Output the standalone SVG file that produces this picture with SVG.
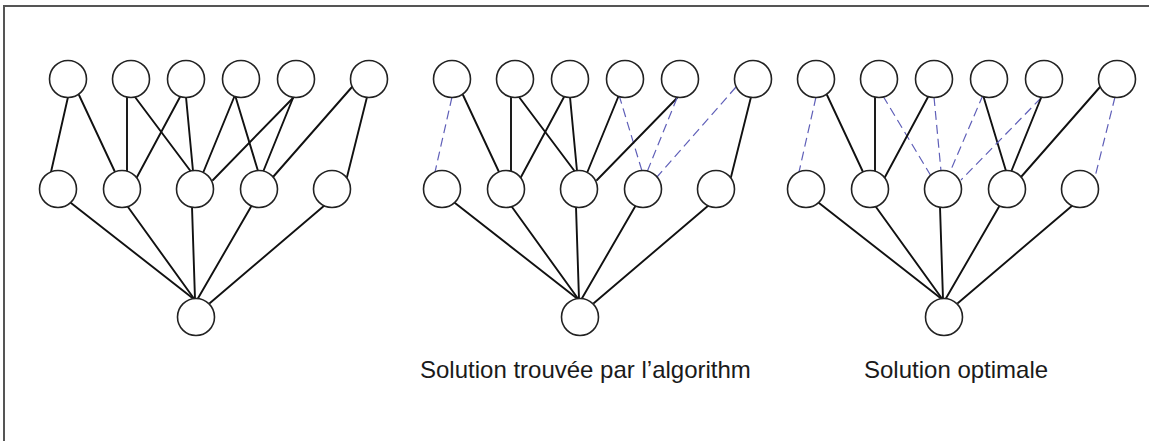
<svg xmlns="http://www.w3.org/2000/svg" width="1149" height="441" viewBox="0 0 1149 441">
<style>
.e{stroke:#111;stroke-width:1.9;fill:none;stroke-linecap:round}
.d{stroke:#5f5fb8;stroke-width:1.2;fill:none;stroke-dasharray:9 5}
.n{fill:#fff;stroke:#222;stroke-width:1.6}
.t{font-family:"Liberation Sans",Arial,sans-serif;font-size:24px;fill:#1a1a1a}
.f{stroke:#555;stroke-width:2;fill:none}
</style>
<rect width="1149" height="441" fill="#fff"/>
<g id="frame">
<line class="f" x1="3" y1="6" x2="1149" y2="6"/>
<line class="f" x1="4" y1="5" x2="4" y2="441"/>
</g>
<g id="connectors">
<g id="tree1-edges">
<line class="e" x1="68" y1="97" x2="51" y2="172"/>
<line class="e" x1="79" y1="95" x2="115" y2="172"/>
<line class="e" x1="127" y1="97" x2="127" y2="171"/>
<line class="e" x1="135" y1="97" x2="192" y2="173"/>
<line class="e" x1="180" y1="97" x2="137" y2="177"/>
<line class="e" x1="186" y1="97" x2="193" y2="171"/>
<line class="e" x1="235" y1="95" x2="203" y2="173"/>
<line class="e" x1="235" y1="95" x2="258" y2="171"/>
<line class="e" x1="293" y1="98" x2="213" y2="180"/>
<line class="e" x1="293" y1="98" x2="263" y2="172"/>
<line class="e" x1="352" y1="87" x2="273" y2="177"/>
<line class="e" x1="367" y1="97" x2="347" y2="177"/>
<line class="e" x1="71" y1="203" x2="195" y2="300"/>
<line class="e" x1="128" y1="207" x2="195" y2="300"/>
<line class="e" x1="192" y1="207" x2="195" y2="299"/>
<line class="e" x1="252" y1="205" x2="197" y2="300"/>
<line class="e" x1="325" y1="205" x2="210" y2="303"/>
</g>
<g id="tree2-edges">
<line class="d" x1="452" y1="97" x2="435" y2="172"/>
<line class="e" x1="463" y1="95" x2="499" y2="172"/>
<line class="e" x1="511" y1="97" x2="511" y2="171"/>
<line class="e" x1="519" y1="97" x2="576" y2="173"/>
<line class="e" x1="564" y1="97" x2="521" y2="177"/>
<line class="e" x1="570" y1="97" x2="577" y2="171"/>
<line class="e" x1="619" y1="95" x2="587" y2="173"/>
<line class="d" x1="619" y1="95" x2="642" y2="171"/>
<line class="e" x1="677" y1="98" x2="597" y2="180"/>
<line class="d" x1="677" y1="98" x2="647" y2="172"/>
<line class="d" x1="736" y1="87" x2="657" y2="177"/>
<line class="e" x1="751" y1="97" x2="731" y2="177"/>
<line class="e" x1="455" y1="203" x2="579" y2="300"/>
<line class="e" x1="512" y1="207" x2="579" y2="300"/>
<line class="e" x1="576" y1="207" x2="579" y2="299"/>
<line class="e" x1="636" y1="205" x2="581" y2="300"/>
<line class="e" x1="709" y1="205" x2="594" y2="303"/>
</g>
<g id="tree3-edges">
<line class="d" x1="816" y1="97" x2="799" y2="172"/>
<line class="e" x1="827" y1="95" x2="863" y2="172"/>
<line class="e" x1="875" y1="97" x2="875" y2="171"/>
<line class="d" x1="883" y1="96" x2="931" y2="176"/>
<line class="e" x1="928" y1="97" x2="885" y2="177"/>
<line class="d" x1="934" y1="97" x2="941" y2="171"/>
<line class="d" x1="983" y1="95" x2="950" y2="172"/>
<line class="e" x1="983" y1="95" x2="1006" y2="171"/>
<line class="d" x1="1041" y1="98" x2="961" y2="180"/>
<line class="e" x1="1041" y1="98" x2="1011" y2="172"/>
<line class="e" x1="1100" y1="87" x2="1021" y2="177"/>
<line class="d" x1="1115" y1="97" x2="1095" y2="177"/>
<line class="e" x1="819" y1="203" x2="943" y2="300"/>
<line class="e" x1="876" y1="207" x2="943" y2="300"/>
<line class="e" x1="940" y1="207" x2="943" y2="299"/>
<line class="e" x1="1000" y1="205" x2="945" y2="300"/>
<line class="e" x1="1073" y1="205" x2="958" y2="303"/>
</g>
</g>
<g id="tree1-nodes">
<g id="a-t1"><circle class="n" cx="68" cy="79" r="18.5"/></g>
<g id="a-t2"><circle class="n" cx="131" cy="79" r="18.5"/></g>
<g id="a-t3"><circle class="n" cx="186" cy="79" r="18.5"/></g>
<g id="a-t4"><circle class="n" cx="241" cy="79" r="18.5"/></g>
<g id="a-t5"><circle class="n" cx="296" cy="79" r="18.5"/></g>
<g id="a-t6"><circle class="n" cx="369" cy="79" r="18.5"/></g>
<g id="a-m1"><circle class="n" cx="58" cy="189" r="18.5"/></g>
<g id="a-m2"><circle class="n" cx="122" cy="189" r="18.5"/></g>
<g id="a-m3"><circle class="n" cx="195" cy="189" r="18.5"/></g>
<g id="a-m4"><circle class="n" cx="259" cy="189" r="18.5"/></g>
<g id="a-m5"><circle class="n" cx="332" cy="189" r="18.5"/></g>
<g id="a-b"><circle class="n" cx="196" cy="317" r="18.5"/></g>
</g>
<g id="tree2-nodes">
<g id="b-t1"><circle class="n" cx="452" cy="79" r="18.5"/></g>
<g id="b-t2"><circle class="n" cx="515" cy="79" r="18.5"/></g>
<g id="b-t3"><circle class="n" cx="570" cy="79" r="18.5"/></g>
<g id="b-t4"><circle class="n" cx="625" cy="79" r="18.5"/></g>
<g id="b-t5"><circle class="n" cx="680" cy="79" r="18.5"/></g>
<g id="b-t6"><circle class="n" cx="753" cy="79" r="18.5"/></g>
<g id="b-m1"><circle class="n" cx="442" cy="189" r="18.5"/></g>
<g id="b-m2"><circle class="n" cx="506" cy="189" r="18.5"/></g>
<g id="b-m3"><circle class="n" cx="579" cy="189" r="18.5"/></g>
<g id="b-m4"><circle class="n" cx="643" cy="189" r="18.5"/></g>
<g id="b-m5"><circle class="n" cx="716" cy="189" r="18.5"/></g>
<g id="b-b"><circle class="n" cx="580" cy="317" r="18.5"/></g>
</g>
<g id="tree3-nodes">
<g id="c-t1"><circle class="n" cx="816" cy="79" r="18.5"/></g>
<g id="c-t2"><circle class="n" cx="879" cy="79" r="18.5"/></g>
<g id="c-t3"><circle class="n" cx="934" cy="79" r="18.5"/></g>
<g id="c-t4"><circle class="n" cx="989" cy="79" r="18.5"/></g>
<g id="c-t5"><circle class="n" cx="1044" cy="79" r="18.5"/></g>
<g id="c-t6"><circle class="n" cx="1117" cy="79" r="18.5"/></g>
<g id="c-m1"><circle class="n" cx="806" cy="189" r="18.5"/></g>
<g id="c-m2"><circle class="n" cx="870" cy="189" r="18.5"/></g>
<g id="c-m3"><circle class="n" cx="943" cy="189" r="18.5"/></g>
<g id="c-m4"><circle class="n" cx="1007" cy="189" r="18.5"/></g>
<g id="c-m5"><circle class="n" cx="1080" cy="189" r="18.5"/></g>
<g id="c-b"><circle class="n" cx="944" cy="317" r="18.5"/></g>
</g>
<g id="labels">
<text class="t" x="420" y="378">Solution trouvée par l’algorithm</text>
<text class="t" x="864" y="378">Solution optimale</text>
</g>
</svg>
